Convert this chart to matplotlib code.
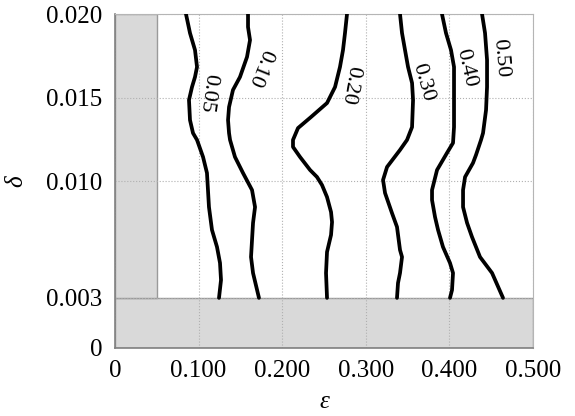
import matplotlib
matplotlib.use("Agg")
import matplotlib.pyplot as plt
from matplotlib.patches import Rectangle

# contour levels and their traced (epsilon, delta) points
levels = ["0.05", "0.10", "0.20", "0.30", "0.40", "0.50"]

eps_005 = [0.0849, 0.0897, 0.0957, 0.0981, 0.0957, 0.0921, 0.0885, 0.0897, 0.0933, 0.0981,
           0.1053, 0.1100, 0.1112, 0.1124, 0.1160, 0.1220, 0.1256, 0.1268, 0.1244]
del_005 = [0.0200, 0.01886, 0.01784, 0.01683, 0.01623, 0.01563, 0.01485, 0.01365, 0.01287, 0.01246,
           0.01144, 0.01048, 0.00946, 0.00844, 0.00707, 0.00605, 0.00509, 0.00407, 0.0030]

eps_010 = [0.1591, 0.1591, 0.1615, 0.1579, 0.1495, 0.1411, 0.1364, 0.1352, 0.1364, 0.1376,
           0.1435, 0.1531, 0.1639, 0.1675, 0.1651, 0.1639, 0.1627, 0.1651, 0.1722]
del_010 = [0.0200, 0.01922, 0.01844, 0.01743, 0.01623, 0.01545, 0.01443, 0.01365, 0.01287, 0.01246,
           0.01144, 0.01048, 0.00946, 0.00844, 0.00749, 0.00647, 0.00545, 0.00449, 0.0030]

eps_020 = [0.2775, 0.2751, 0.2727, 0.2691, 0.2632, 0.2536, 0.2344, 0.2189, 0.2129, 0.2129,
           0.2213, 0.2333, 0.2416, 0.2476, 0.2536, 0.2584, 0.2596, 0.2584, 0.2536, 0.2524, 0.2536]
del_020 = [0.0200, 0.01886, 0.01784, 0.01683, 0.01563, 0.01467, 0.01383, 0.01317, 0.01246, 0.01204,
           0.01144, 0.01066, 0.01024, 0.00976, 0.00904, 0.00814, 0.00754, 0.00677, 0.00575, 0.00449, 0.0030]

eps_030 = [0.3409, 0.3433, 0.3469, 0.3505, 0.3553, 0.3565, 0.3553, 0.3493, 0.3409, 0.3254,
           0.3206, 0.3230, 0.3313, 0.3373, 0.3409, 0.3433, 0.3409, 0.3385, 0.3373]
del_030 = [0.0200, 0.01886, 0.01784, 0.01683, 0.01587, 0.01485, 0.01323, 0.01246, 0.01186, 0.01084,
           0.01006, 0.00928, 0.00808, 0.00725, 0.00587, 0.00545, 0.00449, 0.00389, 0.0030]

eps_040 = [0.3911, 0.3959, 0.4019, 0.4055, 0.4055, 0.4055, 0.4043, 0.3971, 0.3852, 0.3792,
           0.3792, 0.3828, 0.3864, 0.3923, 0.4007, 0.4043, 0.4031, 0.4007]
del_040 = [0.0200, 0.01886, 0.01784, 0.01683, 0.01485, 0.01323, 0.01228, 0.01168, 0.01066, 0.00946,
           0.00886, 0.00784, 0.00707, 0.00605, 0.00509, 0.00449, 0.00347, 0.0030]

eps_050 = [0.4390, 0.4426, 0.4450, 0.4450, 0.4438, 0.4402, 0.4378, 0.4318, 0.4282, 0.4187,
           0.4163, 0.4163, 0.4211, 0.4270, 0.4366, 0.4510, 0.4641]
del_050 = [0.0200, 0.01886, 0.01725, 0.01563, 0.01425, 0.01287, 0.01246, 0.01156, 0.01108, 0.01024,
           0.00946, 0.00844, 0.00749, 0.00665, 0.00545, 0.00449, 0.0030]

# label anchor points (epsilon, delta) and text angle
label_eps = [0.1112, 0.1734, 0.2811, 0.3684, 0.4199, 0.4605]
label_del = [0.01527, 0.01677, 0.01575, 0.01593, 0.01677, 0.01737]
label_rot = [-98, -112, -100, -74, -77, -85]

x_ticks = [0, 0.1, 0.2, 0.3, 0.4, 0.5]
x_ticklabels = ["0", "0.100", "0.200", "0.300", "0.400", "0.500"]
y_ticks = [0, 0.003, 0.010, 0.015, 0.020]
y_ticklabels = ["0", "0.003", "0.010", "0.015", "0.020"]

eps_min = 0.05
del_min = 0.003

plt.rcParams["font.family"] = ["Liberation Serif", "DejaVu Serif"]

fig = plt.figure(figsize=(5.75, 4.16), dpi=100)
ax = fig.add_axes([0.2, 0.1635, 0.727, 0.8028])

# excluded region (gray L shape)
ax.add_patch(Rectangle((0, 0), 0.5, del_min, facecolor="#d9d9d9",
                       edgecolor="#9a9a9a", linewidth=1.0, zorder=0.3))
ax.add_patch(Rectangle((0, del_min), eps_min, 0.02 - del_min, facecolor="#d9d9d9",
                       edgecolor="#9a9a9a", linewidth=1.0, zorder=0.3))

series = [(eps_005, del_005), (eps_010, del_010), (eps_020, del_020),
          (eps_030, del_030), (eps_040, del_040), (eps_050, del_050)]
for (xs, ys) in series:
    ax.plot(xs, ys, color="black", linewidth=2.7, solid_capstyle="round",
            solid_joinstyle="round", zorder=3)

for lab, lx, ly, rot in zip(levels, label_eps, label_del, label_rot):
    ax.text(lx, ly, lab, rotation=rot, ha="center", va="center",
            fontsize=16, rotation_mode="anchor", zorder=4)

ax.set_xlim(0, 0.5)
ax.set_ylim(0, 0.02)
ax.set_xticks(x_ticks)
ax.set_xticklabels(x_ticklabels)
ax.set_yticks(y_ticks)
ax.set_yticklabels(y_ticklabels)
ax.tick_params(length=0, labelsize=18)
ax.tick_params(axis="y", pad=9)
ax.tick_params(axis="x", pad=9)

ax.set_axisbelow(True)
ax.grid(True, color="#b0b0b0", linestyle=":", linewidth=0.8)

for side in ["top", "right"]:
    ax.spines[side].set_color("#b5b5b5")
for side in ["left", "bottom"]:
    ax.spines[side].set_color("#808080")
    ax.spines[side].set_linewidth(1.2)

ax.set_xlabel("ε", fontsize=18, style="italic", labelpad=6)
ax.set_ylabel("δ", fontsize=18, style="italic", labelpad=14)

fig.savefig("out.png", dpi=100)
plt.close(fig)
